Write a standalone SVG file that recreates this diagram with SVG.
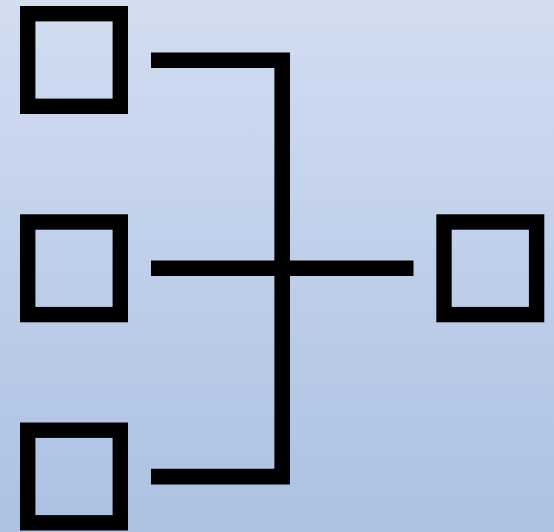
<svg xmlns="http://www.w3.org/2000/svg" width="554" height="532" viewBox="0 0 554 532">
<style>
.n{fill:none;stroke:#000;stroke-width:15.4}
.c{fill:none;stroke:#000;stroke-width:15.6;stroke-linejoin:miter}
</style>
<defs><linearGradient id="bg" x1="0" y1="0" x2="0" y2="1"><stop offset="0" stop-color="#d3deee"/><stop offset="0.11" stop-color="#cedaf0"/><stop offset="1" stop-color="#adc1e3"/></linearGradient></defs>
<rect width="554" height="532" fill="url(#bg)"/>
<g id="node-top-left"><rect class="n" x="27.7" y="13.7" width="92.6" height="92.6"/></g>
<g id="node-middle-left"><rect class="n" x="27.7" y="222" width="92.6" height="92.6"/></g>
<g id="node-bottom-left"><rect class="n" x="27.7" y="430.2" width="92.6" height="92.6"/></g>
<g id="node-right"><rect class="n" x="444" y="222" width="92.6" height="92.6"/></g>
<g id="connectors">
<path class="c" d="M151 60.2H282.2V476.6H151"/>
<path class="c" d="M151 268.3H413.5"/>
</g>
</svg>
